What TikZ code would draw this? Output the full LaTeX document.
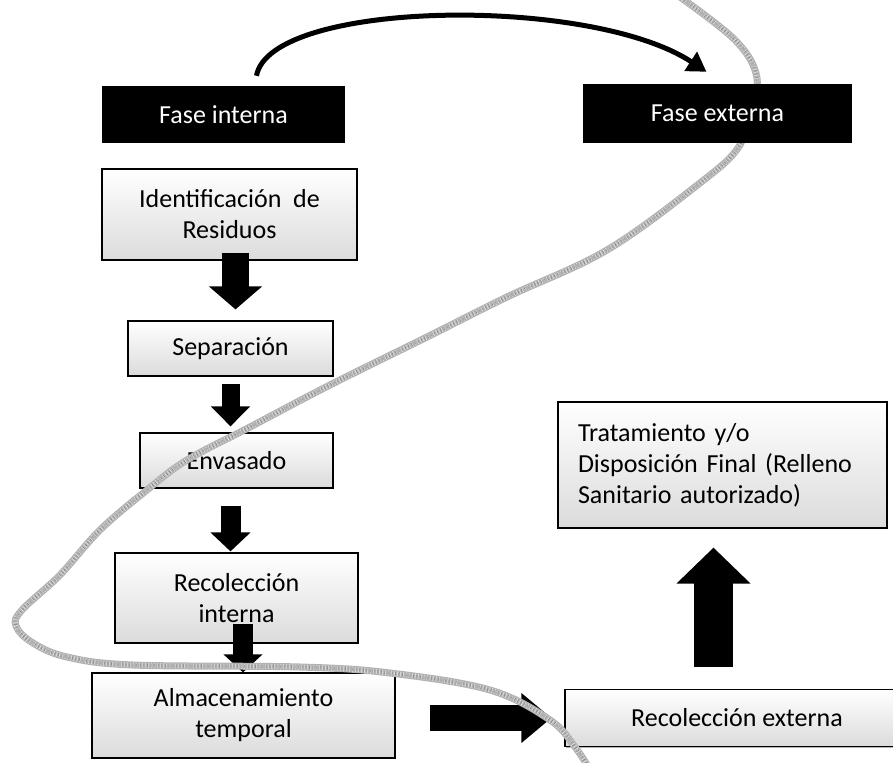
\documentclass[tikz,border=0pt]{standalone}
\usepackage{fontspec}
\setmainfont{Carlito}
\usetikzlibrary{arrows.meta,shadows}

\begin{document}
\begin{tikzpicture}[
              x=1pt, y=-1pt,
              font=\fontsize{26}{31}\selectfont,
              phase/.style={rectangle, fill=black, text=white, inner sep=0pt},
              box/.style={rectangle, draw=black, line width=1.2pt, inner sep=0pt, align=center,
                top color=white, middle color=white, bottom color=gray!28,
                drop shadow={shadow xshift=1.2pt, shadow yshift=-1.2pt, opacity=.6}},
              blockarrow/.style n args={3}{draw=black, line width=#1, -{Triangle[width=#2, length=#3]}},
              curvearrow/.style={draw=black, line width=5pt, -{Triangle[width=22pt, length=19pt]}},
              grayline/.style={draw=gray!60, line width=7pt, line cap=round},
              grainline/.style={draw=white, line width=5pt, dash pattern=on 0.7pt off 2.3pt, opacity=.6},
              darkgrain/.style={draw=black!75, line width=3pt, dash pattern=on 0.5pt off 3.1pt, opacity=.45}
            ]
              \useasboundingbox (0,0) rectangle (893,762);
              \clip (0,0) rectangle (893,762);

              % Define step nodes
              \node[phase, minimum width=243pt, minimum height=57pt] (fi) at (223.5,114.5) {Fase interna};
              \node[box, minimum width=255pt, minimum height=91pt] (ident) at (229.5,214.5) {Identificación\ \ de\\Residuos};
              \node[box, minimum width=205pt, minimum height=55pt] (sep) at (230.5,348.5) {Separación};
              \node[box, minimum width=193pt, minimum height=55pt] (env) at (236.5,460.5) {Envasado};
              \node[box, minimum width=243pt, minimum height=90pt] (recint) at (236.5,598) {Recolección\\interna};
              \node[box, minimum width=303pt, minimum height=85pt] (alm) at (243.5,715.5) {Almacenamiento\\temporal};
              \node[box, minimum width=344pt, minimum height=57pt] (recext) at (737,718) {Recolección externa};
              \node[box, minimum width=329pt, minimum height=126pt, text width=289pt, align=left] (trat) at (722.5,465)
                {Tratamiento y/o\\Disposición Final (Relleno\\Sanitario autorizado)};

              % Draw block arrows
              \draw[blockarrow={27pt}{52pt}{23pt}, shorten <=-8pt, shorten >=11pt] ([xshift=6pt]ident.south) -- ([xshift=6pt]ident.south |- sep.north);
              \draw[blockarrow={18pt}{38pt}{20pt}, shorten <=7pt, shorten >=6pt] (sep.south) -- (sep.south |- env.north);
              \draw[blockarrow={20pt}{39pt}{19pt}, shorten <=17pt, shorten >=1pt] ([xshift=-6pt]env.south) -- ([xshift=-6pt]env.south |- recint.north);
              \draw[blockarrow={20pt}{38pt}{18pt}, shorten <=-20pt] ([xshift=6.5pt]recint.south) -- ([xshift=6.5pt]recint.south |- alm.north);
              \draw[blockarrow={26pt}{48pt}{30pt}, shorten <=34pt, shorten >=13pt] (alm.east |- recext.west) -- (recext.west);
              \draw[blockarrow={39pt}{72pt}{36pt}, shorten <=22pt, shorten >=19pt] ([xshift=-23.5pt]recext.north) -- ([xshift=-23.5pt]recext.north |- trat.south);

              % Add gray line
              \foreach \layer in {grayline, grainline, darkgrain}
                \draw[\layer] plot[smooth, tension=0.6] coordinates {(673,-8) (735,40) (757,78) (748,115) (738,148) (700,183) (607,250) (507,297) (427,337) (330,385) (250,427) (187,460) (147,490) (100,530) (60,575) (22,610) (16,626) (33,643) (67,657) (133,665) (300,667) (390,673) (490,690) (550,720) (575,747) (590,770)};

              % Define external phase and curved arrow
              \node[phase, minimum width=269pt, minimum height=59pt] (fe) at (717.5,113.5) {Fase externa};
              \draw[curvearrow] ([xshift=33pt, yshift=10pt]fi.north) .. controls (270,0) and (590,-5) .. ([xshift=-11pt, yshift=12pt]fe.north);
            \end{tikzpicture}
\end{document}
